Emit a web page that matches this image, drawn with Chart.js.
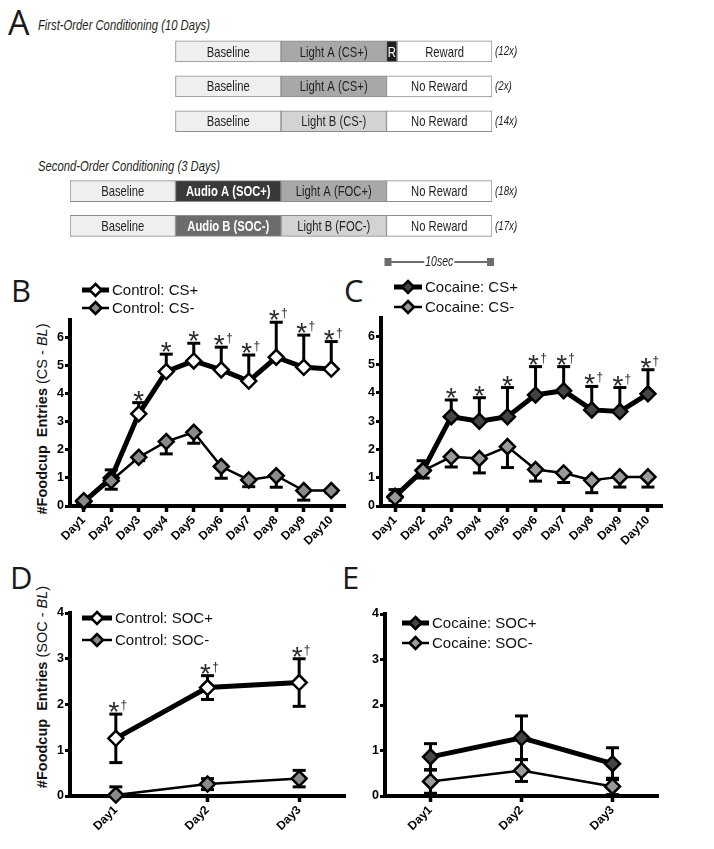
<!DOCTYPE html>
<html><head><meta charset="utf-8">
<script src="https://cdn.jsdelivr.net/npm/chart.js@4.4.1/dist/chart.umd.min.js"></script>
<style>
html,body{margin:0;padding:0;background:#fff;}
#page{position:relative;width:714px;height:849px;overflow:hidden;font-family:"Liberation Sans",Arial,sans-serif;color:#111;}
canvas{position:absolute;}
.letter{position:absolute;font-family:"Open Sans","Liberation Sans",sans-serif;font-size:32px;line-height:1;color:#1a1a1a;}
.ttl{position:absolute;font-family:"Liberation Sans",Arial,sans-serif;font-style:italic;font-size:15px;line-height:1;color:#231f20;white-space:nowrap;transform-origin:left top;transform:scaleX(0.75);}
.ytitle{position:absolute;white-space:nowrap;transform:translate(-50%,-50%) rotate(-90deg);font-size:14.5px;line-height:1;color:#111;}
</style></head>
<body><div id="page">
<div class="letter" style="left:8px;top:5px;font-size:34px;">A</div>
<div class="ttl" style="left:38px;top:17px;">First-Order Conditioning (10 Days)</div>
<div class="ttl" style="left:38px;top:158px;">Second-Order Conditioning (3 Days)</div>
<div class="letter" style="left:11px;top:275px;font-size:31px;">B</div>
<div class="letter" style="left:344px;top:275px;font-size:31px;">C</div>
<div class="letter" style="left:10px;top:562px;font-size:31px;">D</div>
<div class="letter" style="left:342px;top:562px;font-size:31px;">E</div>
<div class="ytitle" style="left:42px;top:419px;"><b>#Foodcup&nbsp; Entries</b> (CS - <i>BL</i>)</div>
<div class="ytitle" style="left:42px;top:687px;"><b>#Foodcup&nbsp; Entries</b> (SOC - <i>BL</i>)</div>
<canvas id="cA" width="714" height="275" style="left:0;top:0;"></canvas>
<canvas id="cB" width="355" height="290" style="left:0;top:270px;"></canvas>
<canvas id="cC" width="359" height="290" style="left:355px;top:270px;"></canvas>
<canvas id="cD" width="355" height="289" style="left:0;top:560px;"></canvas>
<canvas id="cE" width="359" height="289" style="left:355px;top:560px;"></canvas>
</div>
<script>
// ---------- DATA ----------
// Panel A protocol (seconds)
const protocolRows = ['FOC CS+ rewarded', 'FOC CS+ probe', 'FOC CS-', '', 'SOC+', 'SOC-'];
const repeatCounts = ['(12x)', '(2x)', '(14x)', '', '(18x)', '(17x)'];
const seg1 = [[10,20],[10,20],[10,20],null,[0,10],[0,10]];
const seg1Labels = ['Baseline','Baseline','Baseline','','Baseline','Baseline'];
const seg2 = [[20,30],[20,30],[20,30],null,[10,20],[10,20]];
const seg2Labels = ['Light A (CS+)','Light A (CS+)','Light B (CS-)','','Audio A (SOC+)','Audio B (SOC-)'];
const seg3 = [[30,31],[30,40],[30,40],null,[20,30],[20,30]];
const seg3Labels = ['R','No Reward','No Reward','','Light A (FOC+)','Light B (FOC-)'];
const seg4 = [[31,40],null,null,null,[30,40],[30,40]];
const seg4Labels = ['Reward','','','','No Reward','No Reward'];
const scaleBarSec = [30, 40];
const scaleBarLabel = '10sec';

// Panels B/C (first-order, 10 days)
const days10 = ['Day1','Day2','Day3','Day4','Day5','Day6','Day7','Day8','Day9','Day10'];
const ctrlCSplus     = [0.15, 1.00, 3.29, 4.80, 5.18, 4.86, 4.46, 5.31, 4.95, 4.89];
const ctrlCSplusErr  = [0.05, 0.29, 0.40, 0.62, 0.63, 0.81, 0.93, 1.25, 1.15, 0.98];
const ctrlCSminus    = [0.19, 0.90, 1.74, 2.30, 2.63, 1.41, 0.93, 1.08, 0.55, 0.55];
const ctrlCSminusErr = [0.05, 0.30, 0.12, 0.44, 0.39, 0.42, 0.24, 0.41, 0.34, 0.08];
const cocCSplus      = [0.34, 1.27, 3.16, 3.00, 3.16, 3.93, 4.08, 3.40, 3.34, 3.97];
const cocCSplusErr   = [0.24, 0.33, 0.59, 0.83, 1.03, 1.00, 0.85, 0.83, 0.85, 0.85];
const cocCSminus     = [0.30, 1.25, 1.74, 1.68, 2.10, 1.29, 1.17, 0.91, 1.03, 1.03];
const cocCSminusErr  = [0.10, 0.26, 0.36, 0.51, 0.74, 0.41, 0.34, 0.44, 0.36, 0.36];
const sigB = ['', '', '*', '*', '*', '*†', '*†', '*†', '*†', '*†'];
const sigC = ['', '', '*', '*', '*', '*†', '*†', '*†', '*†', '*†'];
const yTicksFOC = [0, 1, 2, 3, 4, 5, 6];

// Panels D/E (second-order, 3 days)
const days3 = ['Day1','Day2','Day3'];
const ctrlSOCplus     = [1.26, 2.37, 2.48];
const ctrlSOCplusErr  = [0.53, 0.26, 0.52];
const ctrlSOCminus    = [0.02, 0.26, 0.38];
const ctrlSOCminusErr = [0.18, 0.12, 0.18];
const cocSOCplus      = [0.86, 1.28, 0.71];
const cocSOCplusErr   = [0.29, 0.48, 0.35];
const cocSOCminus     = [0.32, 0.56, 0.21];
const cocSOCminusErr  = [0.26, 0.24, 0.18];
const sigD = ['*†', '*†', '*†'];
const sigE = ['', '', ''];
const yTicksSOC = [0, 1, 2, 3, 4];

// ---------- STYLE ----------
const FONT = '"Liberation Sans", Arial, sans-serif';
const NARROW_SCALE = 0.75;

function narrowText(ctx, text, x, y, font, align) {
  ctx.save();
  ctx.font = font;
  ctx.textAlign = align;
  ctx.translate(x, y);
  ctx.scale(NARROW_SCALE, 1);
  ctx.fillText(text, 0, 0);
  ctx.restore();
}

// ---------- PANEL A ----------
const segColors = {
  base: '#efeff1', lightA: '#a8a8aa', lightB: '#d3d3d5', R: '#231f20', white: '#ffffff', audA: '#39393b', audB: '#6c6c6e'
};
const protoPlugin = {
  id: 'protoLabels',
  afterDatasetsDraw(chart) {
    const ctx = chart.ctx;
    const xs = chart.scales.x;
    ctx.save();
    ctx.textBaseline = 'middle';
    chart.data.datasets.forEach((ds, di) => {
      const meta = chart.getDatasetMeta(di);
      meta.data.forEach((el, i) => {
        const t = ds.segLabels[i];
        if (!t || ds.data[i] == null) return;
        const cx = (el.x + el.base) / 2;
        ctx.fillStyle = ds.textDark[i] ? '#231f20' : '#ffffff';
        narrowText(ctx, t, cx, el.y + 1, (ds.textBold[i] ? 'bold ' : '') + '15px ' + FONT, 'center');
      });
    });
    const meta0 = chart.getDatasetMeta(0);
    ctx.fillStyle = '#231f20';
    repeatCounts.forEach((t, i) => {
      if (!t) return;
      narrowText(ctx, t, xs.getPixelForValue(40) + 3, meta0.data[i].y, 'italic 13px ' + FONT, 'left');
    });
    // scale bar
    const x0 = xs.getPixelForValue(scaleBarSec[0]), x1 = xs.getPixelForValue(scaleBarSec[1]);
    const yb = 262;
    ctx.strokeStyle = '#6d6e71';
    ctx.lineWidth = 2;
    ctx.beginPath(); ctx.moveTo(x0, yb); ctx.lineTo(x1, yb); ctx.stroke();
    ctx.fillStyle = '#6d6e71';
    ctx.fillRect(x0 - 2, yb - 4, 7, 8);
    ctx.fillRect(x1 - 5, yb - 4, 7, 8);
    const cx = (x0 + x1) / 2;
    ctx.font = 'italic 14px ' + FONT;
    const w = ctx.measureText(scaleBarLabel).width * NARROW_SCALE;
    ctx.fillStyle = '#fff';
    ctx.fillRect(cx - w / 2 - 1, yb - 6, w + 2, 12);
    ctx.fillStyle = '#231f20';
    narrowText(ctx, scaleBarLabel, cx, yb, 'italic 14px ' + FONT, 'center');
    ctx.restore();
  }
};
function segDataset(data, labels, colors, dark, bold) {
  return {
    data, segLabels: labels, textDark: dark, textBold: bold,
    backgroundColor: colors, borderColor: '#8d8d8f', borderWidth: 1, borderSkipped: false,
    barThickness: 21, grouped: false
  };
}
new Chart(document.getElementById('cA'), {
  type: 'bar',
  data: {
    labels: protocolRows,
    datasets: [
      segDataset(seg1, seg1Labels, [segColors.base, segColors.base, segColors.base, segColors.base, segColors.base, segColors.base], [1,1,1,1,1,1], [0,0,0,0,0,0]),
      segDataset(seg2, seg2Labels, [segColors.lightA, segColors.lightA, segColors.lightB, segColors.base, segColors.audA, segColors.audB], [1,1,1,1,0,0], [0,0,0,0,1,1]),
      segDataset(seg3, seg3Labels, [segColors.R, segColors.white, segColors.white, segColors.base, segColors.lightA, segColors.lightB], [0,1,1,1,1,1], [0,0,0,0,0,0]),
      segDataset(seg4, seg4Labels, [segColors.white, segColors.white, segColors.white, segColors.white, segColors.white, segColors.white], [1,1,1,1,1,1], [0,0,0,0,0,0])
    ]
  },
  options: {
    indexAxis: 'y', responsive: false, animation: false, devicePixelRatio: 1,
    layout: { padding: { left: 70, right: 222, top: 34, bottom: 31.6 } },
    plugins: { legend: { display: false }, tooltip: { enabled: false } },
    scales: {
      x: { type: 'linear', min: 0, max: 40, display: false },
      y: { type: 'category', display: false, offset: true }
    }
  },
  plugins: [protoPlugin]
});

// ---------- LINE PANELS ----------
const errorBars = {
  id: 'errorBars',
  beforeDatasetsDraw(chart) {
    const ctx = chart.ctx, ys = chart.scales.y, ca = chart.chartArea;
    ctx.save();
    ctx.strokeStyle = '#000';
    ctx.lineWidth = 3;
    ctx.lineCap = 'butt';
    chart.data.datasets.forEach((ds, di) => {
      const meta = chart.getDatasetMeta(di);
      ds.data.forEach((v, i) => {
        const e = ds.errors[i];
        if (!e) return;
        const px = meta.data[i].x, py = ys.getPixelForValue(v);
        const ends = [];
        if (ds.errDir !== 'down') ends.push(ys.getPixelForValue(v + e));
        if (ds.errDir !== 'up') ends.push(Math.min(ys.getPixelForValue(v - e), ca.bottom));
        ends.forEach(ey => {
          ctx.beginPath(); ctx.moveTo(px, py); ctx.lineTo(px, ey); ctx.stroke();
          ctx.beginPath(); ctx.moveTo(px - 6.5, ey); ctx.lineTo(px + 6.5, ey); ctx.stroke();
        });
      });
    });
    ctx.restore();
  }
};
const sigMarks = {
  id: 'sigMarks',
  afterDatasetsDraw(chart) {
    const ctx = chart.ctx, ys = chart.scales.y;
    chart.data.datasets.forEach((ds, di) => {
      if (!ds.sig) return;
      const meta = chart.getDatasetMeta(di);
      ds.sig.forEach((s, i) => {
        if (!s) return;
        const px = meta.data[i].x;
        const top = ys.getPixelForValue(ds.data[i] + ds.errors[i]);
        ctx.save();
        ctx.fillStyle = '#2b2b2b';
        ctx.textBaseline = 'alphabetic';
        ctx.textAlign = 'center';
        const dag = s.length > 1;
        ctx.font = '28px ' + FONT;
        ctx.fillText('*', dag ? px - 2 : px, top + 7);
        if (dag) {
          ctx.font = '12px ' + FONT;
          ctx.fillText('†', px + 8, top - 5);
        }
        ctx.restore();
      });
    });
  }
};
const innerLegend = {
  id: 'innerLegend',
  afterDraw(chart, args, opts) {
    const ctx = chart.ctx;
    ctx.save();
    chart.data.datasets.forEach((ds, i) => {
      const y = opts.y + i * opts.gap;
      ctx.strokeStyle = '#000';
      ctx.lineWidth = ds.borderWidth;
      ctx.beginPath(); ctx.moveTo(opts.x0, y); ctx.lineTo(opts.x1, y); ctx.stroke();
      const cx = (opts.x0 + opts.x1) / 2, r = 6;
      ctx.beginPath();
      ctx.moveTo(cx, y - r); ctx.lineTo(cx + r, y); ctx.lineTo(cx, y + r); ctx.lineTo(cx - r, y); ctx.closePath();
      ctx.fillStyle = ds.pointBackgroundColor;
      ctx.fill();
      ctx.lineWidth = 2.5;
      ctx.stroke();
      ctx.fillStyle = '#111';
      ctx.font = '15px ' + FONT;
      ctx.textBaseline = 'middle';
      ctx.textAlign = 'left';
      ctx.fillText(ds.label, opts.x1 + 3, y + 1);
    });
    ctx.restore();
  }
};

function lineDS(label, data, errors, errDir, fill, width, sig, order) {
  return {
    label, data, errors, errDir, sig: sig || null, order,
    borderColor: '#000', borderWidth: width, tension: 0, clip: false,
    pointStyle: 'rectRot', pointRadius: 7.5, pointHoverRadius: 7.5,
    pointBackgroundColor: fill, pointBorderColor: '#000', pointBorderWidth: 2.5
  };
}
function makePanel(id, labels, yMax, yTicks, datasets, area, legend) {
  const cv = document.getElementById(id);
  const W = cv.width, H = cv.height;
  new Chart(cv, {
    type: 'line',
    data: { labels, datasets },
    options: {
      responsive: false, animation: false, devicePixelRatio: 1,
      layout: { padding: { left: 0, top: area.top, right: W - area.right, bottom: 0 } },
      plugins: { legend: { display: false }, tooltip: { enabled: false }, innerLegend: legend },
      scales: {
        x: {
          type: 'category', offset: true,
          grid: { drawOnChartArea: false, drawTicks: true, tickLength: 6, tickWidth: 3.5, tickColor: '#000', offset: false },
          border: { width: 4, color: '#000' },
          ticks: { minRotation: 45, maxRotation: 45, color: '#000', padding: 1, font: { family: FONT, size: 12, weight: 'bold' } },
          afterFit(s) { s.height = H - area.bottom; }
        },
        y: {
          min: 0, max: yMax,
          grid: { drawOnChartArea: false, drawTicks: true, tickLength: 5, tickWidth: 3, tickColor: '#000' },
          border: { width: 4, color: '#000' },
          afterBuildTicks(s) { s.ticks = yTicks.map(v => ({ value: v })); },
          ticks: { color: '#000', padding: 1, font: { family: FONT, size: 12.5, weight: 'bold' } },
          afterFit(s) { s.width = area.left; }
        }
      }
    },
    plugins: [errorBars, sigMarks, innerLegend]
  });
}

makePanel('cB', days10, 6.64, yTicksFOC, [
  lineDS('Control: CS+', ctrlCSplus, ctrlCSplusErr, 'up', '#ffffff', 5, sigB, 1),
  lineDS('Control: CS-', ctrlCSminus, ctrlCSminusErr, 'down', '#8a8a8c', 2.5, null, 0)
], { left: 70, top: 50, right: 348, bottom: 236 }, { x0: 82, x1: 109, y: 20, gap: 18 });

makePanel('cC', days10, 6.65, yTicksFOC, [
  lineDS('Cocaine: CS+', cocCSplus, cocCSplusErr, 'up', '#444446', 5, sigC, 1),
  lineDS('Cocaine: CS-', cocCSminus, cocCSminusErr, 'down', '#9a9a9c', 2.5, null, 0)
], { left: 26, top: 48, right: 307, bottom: 236 }, { x0: 39, x1: 67, y: 17, gap: 20 });

makePanel('cD', days3, 4, yTicksSOC, [
  lineDS('Control: SOC+', ctrlSOCplus, ctrlSOCplusErr, 'both', '#ffffff', 5, sigD, 1),
  lineDS('Control: SOC-', ctrlSOCminus, ctrlSOCminusErr, 'both', '#8a8a8c', 2.5, null, 0)
], { left: 70, top: 53, right: 347, bottom: 236 }, { x0: 82, x1: 112, y: 58, gap: 22 });

makePanel('cE', days3, 4, yTicksSOC, [
  lineDS('Cocaine: SOC+', cocSOCplus, cocSOCplusErr, 'both', '#444446', 5, sigE, 1),
  lineDS('Cocaine: SOC-', cocSOCminus, cocSOCminusErr, 'both', '#9a9a9c', 2.5, null, 0)
], { left: 30, top: 54, right: 303, bottom: 236 }, { x0: 47, x1: 74, y: 63, gap: 20 });
</script>
</body></html>
